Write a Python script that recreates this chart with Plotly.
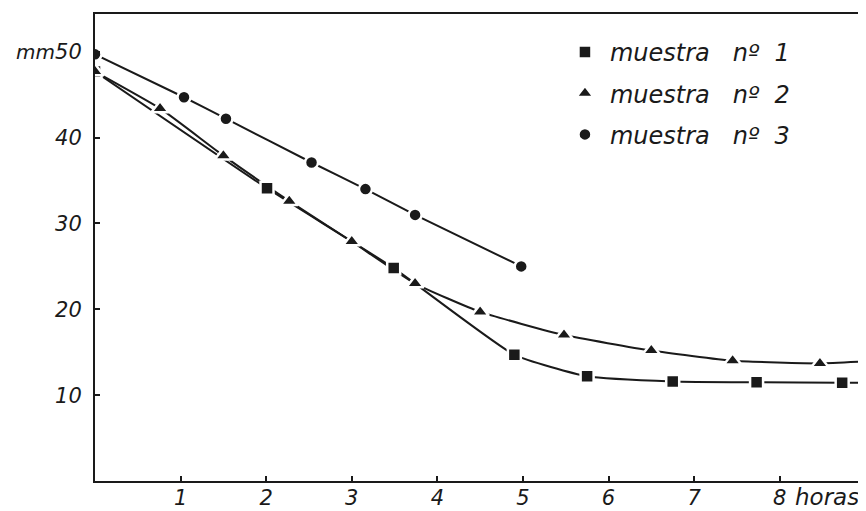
import plotly.graph_objects as go

# --- data ---
labels = ["muestra&nbsp;&nbsp; nº&nbsp; 1", "muestra&nbsp;&nbsp; nº&nbsp; 2", "muestra&nbsp;&nbsp; nº&nbsp; 3"]

x1 = [0, 2.01, 3.49, 4.90, 5.75, 6.75, 7.73, 8.73]
y1 = [47.7, 34.1, 24.8, 14.7, 12.2, 11.6, 11.5, 11.45]
x1_end = [8.95]
y1_end = [11.45]

x2 = [0, 0.76, 1.50, 2.27, 3.00, 3.74, 4.50, 5.48, 6.50, 7.45, 8.47]
y2 = [47.7, 43.4, 37.9, 32.6, 27.9, 23.0, 19.7, 17.0, 15.2, 14.0, 13.7]
x2_end = [8.95]
y2_end = [13.9]

x3 = [0, 1.04, 1.53, 2.53, 3.16, 3.74, 4.98]
y3 = [49.7, 44.7, 42.2, 37.1, 34.0, 31.0, 25.0]

xticks = [1, 2, 3, 4, 5, 6, 7, 8]
yticks = [10, 20, 30, 40, 50]
ytick_text = ["10", "20", "30", "40",
              "<span style='font-size:20px;font-style:italic'>mm</span>50"]

INK = "#1a1a1a"
FONT = "DejaVu Sans"

fig = go.Figure()

series = [
    (x1 + x1_end, y1 + y1_end, x1, y1, "square", 13, labels[0]),
    (x2 + x2_end, y2 + y2_end, x2, y2, "triangle-up", 15, labels[1]),
    (x3, y3, x3, y3, "circle", 13, labels[2]),
]

for lx, ly, mx, my, sym, size, name in series:
    fig.add_trace(go.Scatter(
        x=lx, y=ly, mode="lines",
        line=dict(color=INK, width=2, shape="spline", smoothing=0.45),
        showlegend=False, hoverinfo="skip"))

for i, (lx, ly, mx, my, sym, size, name) in enumerate(series):
    fig.add_trace(go.Scatter(
        x=mx, y=my, mode="markers", name=name, legendgroup=f"g{i}",
        marker=dict(symbol=sym, size=size, color=INK,
                    line=dict(color="white", width=2.5))))

fig.update_layout(
    width=858, height=503,
    margin=dict(l=87, r=5, t=6, b=29.5),
    paper_bgcolor="white", plot_bgcolor="white",
    font=dict(family=FONT, color=INK),
    legend=dict(x=0.607, y=0.966, xanchor="left", yanchor="top",
                font=dict(size=24, style="italic", family=FONT, color=INK),
                bgcolor="rgba(0,0,0,0)", tracegroupgap=7,
                itemwidth=40),
    showlegend=True,
)

fig.update_xaxes(
    range=[0, 8.95], tickvals=xticks, ticktext=[str(v) for v in xticks],
    ticks="inside", ticklen=5, tickwidth=1.5, tickcolor=INK,
    showline=True, linecolor=INK, linewidth=2, mirror=True,
    showgrid=False, zeroline=False, automargin=False, ticklabelstandoff=-3,
    tickfont=dict(size=21, style="italic", family=FONT, color=INK),
)
fig.update_yaxes(
    range=[0, 54.4], tickvals=yticks, ticktext=ytick_text,
    ticks="inside", ticklen=5, tickwidth=1.5, tickcolor=INK,
    showline=True, linecolor=INK, linewidth=2, mirror=True,
    showgrid=False, zeroline=False, ticklabelstandoff=7, automargin=False,
    tickfont=dict(size=21, style="italic", family=FONT, color=INK),
)

fig.add_annotation(
    text="horas", xref="paper", yref="paper", x=1.0, y=0,
    xanchor="right", yanchor="top", yshift=-1, showarrow=False,
    font=dict(size=23, style="italic", family=FONT, color=INK),
)

fig.write_html("out.html")
